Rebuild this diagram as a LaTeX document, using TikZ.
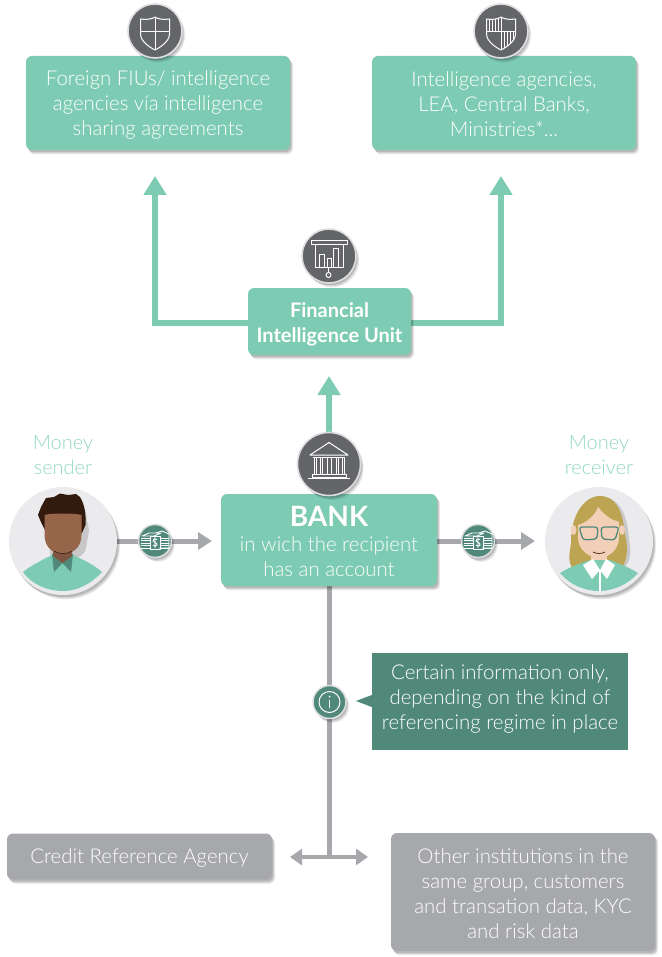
\documentclass[tikz,border=0pt]{standalone}
\usepackage{fontspec}
\setmainfont{Lato}[UprightFont=* Light,BoldFont=* Bold]
\usetikzlibrary{arrows.meta,shadows,backgrounds,calc}
\definecolor{mint}{HTML}{7DCBB3}
\definecolor{lightmint}{HTML}{92D8C1}
\definecolor{deepgreen}{HTML}{50897A}
\definecolor{slate}{HTML}{646569}
\definecolor{midgray}{HTML}{A7A8AC}
\definecolor{ringgray}{HTML}{DEDEE0}
\definecolor{avatarbg}{HTML}{EBEBEE}
\definecolor{darkhair}{HTML}{321B0D}
\definecolor{skinbrown}{HTML}{96654A}
\definecolor{neckbrown}{HTML}{7E5540}
\definecolor{blondehair}{HTML}{BDA452}
\definecolor{skinpale}{HTML}{F3CFB8}
\newcommand{\hh}[1]{\rule{0pt}{#1pt}}
\newcommand{\dd}[1]{\rule[-#1pt]{0pt}{0pt}}
\tikzset{
 x=1pt,y=-1pt,
 softshadow/.style={
   drop shadow={shadow xshift=3.2pt,shadow yshift=-4.4pt,fill=black,opacity=.07},
   drop shadow={shadow xshift=2.4pt,shadow yshift=-3.4pt,fill=black,opacity=.10},
   drop shadow={shadow xshift=1.4pt,shadow yshift=-2.2pt,fill=black,opacity=.14}},
 box/.style={rectangle,rounded corners=6pt,align=center,inner sep=0pt,text=white,softshadow,
   font=\fontsize{20.4}{25}\selectfont},
 greenbox/.style={box,fill=mint},
 graybox/.style={box,fill=midgray},
 iconcirc/.style={circle,fill=slate,draw=ringgray,line width=1.6pt,inner sep=0pt,softshadow},
 moneycirc/.style={circle,fill=deepgreen,draw=ringgray,line width=1.5pt,inner sep=0pt,minimum size=33pt,softshadow},
 greenarrow/.style={draw=mint,line width=6pt,-{Triangle[length=19pt,width=22pt,fill=mint]}},
 grayarrow/.style={draw=midgray,line width=5pt,-{Triangle[length=14pt,width=17pt,fill=midgray]}},
 graydouble/.style={draw=midgray,line width=4pt,{Triangle[length=12pt,width=16pt,fill=midgray]}-{Triangle[length=12pt,width=16pt,fill=midgray]}},
 grayline/.style={draw=midgray,line width=5pt},
 iconline/.style={draw=white,line width=1pt,line join=round},
 sidelabel/.style={text=lightmint,align=center,inner sep=0pt,font=\fontsize{20}{25}\selectfont},
}
\newcommand{\shieldpath}{(-14.5,-12) .. controls (-8,-11) and (-3,-12) .. (0,-14) .. controls (3,-12) and (8,-11) .. (14.5,-12) -- (14.5,3) .. controls (14.5,10) and (6,16) .. (0,19) .. controls (-6,16) and (-14.5,10) .. (-14.5,3) -- cycle}
\newcommand{\moneyicon}{%
 \draw[iconline,line width=.9pt] (-13,-5) -- (-6,-8) -- (6,-8) -- (-1,-5) -- cycle;
 \draw[iconline,line width=.9pt] (1,-8) -- (7,-10) -- (14,-7) -- (14,7) -- (4,7);
 \foreach \yy in {-3,-.5,2,4.5,7}{\draw[iconline,line width=.8pt] (-14,\yy) -- (-5,\yy) (5,\yy) -- (14,\yy);}
 \draw[iconline,line width=.9pt] (-5,-5) -- (5,-5) -- (5,8) -- (-5,8) -- cycle;
 \draw[iconline,line width=.9pt] (2,-1.5) .. controls (0,-3) and (-2.5,-2) .. (-2,0) .. controls (-1.5,2) and (2.5,1) .. (2,4) .. controls (1.5,5.5) and (-1,5.5) .. (-2,4) (0,-4) -- (0,7);
}
\begin{document}
\begin{tikzpicture}
\useasboundingbox (0,0) rectangle (661,957);
% boxes
\node[greenbox,minimum width=264pt,minimum height=94pt] (foreign) at (158,103) {\hh{20.5}Foreign FIUs/ intelligence\\agencies vía intelligence\\sharing agreements\dd{4.5}};
\node[greenbox,minimum width=264pt,minimum height=94pt] (agencies) at (504,103) {\hh{21.5}Intelligence agencies,\\LEA, Central Banks,\\Ministries*...\dd{4.5}};
\node[greenbox,minimum width=163pt,minimum height=67pt,font=\fontsize{20}{25}\selectfont\bfseries] (fiu) at (329.5,321.5) {\hh{20.5}Financial\\Intelligence Unit\dd{4.5}};
\node[greenbox,minimum width=216pt,minimum height=92pt] (bank) at (329,540) {\hh{24}{\fontsize{28}{25}\selectfont\bfseries BANK}\\in wich the recipient\\has an account};
\node[rectangle,fill=deepgreen,text=white,align=center,inner sep=0pt,minimum width=256pt,minimum height=97pt,font=\fontsize{20.4}{25}\selectfont] (note) at (500,701.5) {\hh{15}Certain information only,\\depending on the kind of\\referencing regime in place\dd{9}};
\node[graybox,minimum width=265pt,minimum height=46pt] (cra) at (139.5,856.5) {\hh{18.7}Credit Reference Agency\dd{4.5}};
\node[graybox,minimum width=264pt,minimum height=118pt] (other) at (523,892) {\hh{22.5}Other institutions in the\\same group, customers\\and transation data, KYC\\and risk data\dd{4.5}};
% labels
\node[sidelabel] (senderlabel) at (63,455) {Money\\sender};
\node[sidelabel] (receiverlabel) at (599,454.5) {Money\\receiver};
% circles
\node[iconcirc,minimum size=54pt] (shieldA) at (155,31) {};
\node[iconcirc,minimum size=54pt] (shieldB) at (501,31) {};
\node[iconcirc,minimum size=54pt] (board) at (329,256) {};
\node[iconcirc,minimum size=63pt] (temple) at (329,464) {};
\node[circle,fill=avatarbg,inner sep=0pt,minimum size=108pt,softshadow] (sender) at (63,541) {};
\node[circle,fill=avatarbg,inner sep=0pt,minimum size=108pt,softshadow] (receiver) at (599,541) {};
\node[moneycirc] (moneyA) at (155,541) {};
\node[moneycirc] (moneyB) at (478,541) {};
\node[moneycirc] (info) at (329.5,702) {};
% free ends
\coordinate (tipA) at (155,176);
\coordinate (tipB) at (501,176);
\coordinate (tipC) at (329,376);
\coordinate (tipD) at (212,541);
\coordinate (tipE) at (535,541);
\coordinate (junction) at (329,857);
\coordinate (tipF) at (290,857);
\coordinate (tipG) at (368,857);
% connectors
\begin{scope}[on background layer]
\draw[greenarrow] ([yshift=-1pt]fiu.west) -| (tipA);
\draw[greenarrow] ([yshift=-1pt]fiu.east) -| (tipB);
\draw[greenarrow] (temple.north) -- (tipC);
\draw[grayarrow] (sender.east) -- (tipD);
\draw[grayarrow] (bank.east |- tipE) -- (tipE);
\draw[grayline] (bank.south) -- (junction);
\draw[graydouble] (tipF) -- (tipG);
\end{scope}
% callout pointer
\fill[deepgreen] (note.west |- 0,695) -- (356,701) -- (note.west |- 0,707) -- cycle;
% shields
\begin{scope}[shift={(shieldA.center)}]
\draw[iconline] \shieldpath;
\draw[iconline] (0,-14) -- (0,19) (-14.5,1) -- (14.5,1);
\end{scope}
\begin{scope}[shift={(shieldB.center)}]
\draw[iconline] \shieldpath;
\draw[iconline] (0,-14) -- (0,19) (-14.5,1) -- (14.5,1);
\begin{scope}
\clip \shieldpath;
\foreach \xx in {-12,-9,-6,-3}{\draw[iconline,line width=.8pt] (\xx,-14) -- (\xx,1);}
\foreach \xx in {3,6,9,12}{\draw[iconline,line width=.8pt] (\xx,1) -- (\xx,19);}
\end{scope}
\end{scope}
% board
\begin{scope}[shift={(board.center)}]
\draw[iconline] (-17.5,-15.5) rectangle (18,-11);
\draw[iconline] (-14,-11) -- (-14,12) -- (14.5,12) -- (14.5,-11);
\draw[iconline] (-10,12) -- (-10,-1) -- (-4.5,-1) -- (-4.5,12);
\draw[iconline] (-2,12) -- (-2,3) -- (2.5,3) -- (2.5,12);
\draw[iconline] (4.5,12) -- (4.5,-7) -- (9,-7) -- (9,12);
\draw[iconline] (-.5,12) -- (-.5,16.5);
\draw[iconline] (-.5,19) circle[radius=2.5];
\end{scope}
% temple
\begin{scope}[shift={(temple.center)}]
\draw[iconline] (0,-21.5) -- (19,-9) -- (-19,-9) -- cycle;
\draw[iconline] (-16,-6.5) -- (16,-6.5);
\foreach \xx in {-15,-13,-9,-7,-2,2,7,9,13,15}{\draw[iconline,line width=.9pt] (\xx,-6.5) -- (\xx,10);}
\draw[iconline] (-17,10) rectangle (17,13);
\draw[iconline] (-21,14.5) -- (21,14.5);
\end{scope}
% money
\begin{scope}[shift={(moneyA.center)}]\moneyicon\end{scope}
\begin{scope}[shift={(moneyB.center)}]\moneyicon\end{scope}
% info
\begin{scope}[shift={(info.center)}]
\draw[iconline] (0,0) circle[radius=10.5];
\draw[iconline] (0,-2) -- (0,6);
\fill[white] (0,-5.5) circle[radius=1];
\end{scope}
% sender avatar
\begin{scope}
\clip (sender.center) circle[radius=54];
\fill[black!22] (50,500) .. controls (70,490) and (85,495) .. (87,520) -- (89,530) -- (86,548) .. controls (85,555) and (75,560) .. (70,560) -- (50,555) -- cycle;
\fill[mint] (23,572) .. controls (32,565) and (42,560) .. (52,555) -- (73,555) .. controls (84,560) and (94,565) .. (102,572) .. controls (90,585) and (76,591) .. (63,591) .. controls (48,591) and (32,585) .. (23,572) -- cycle;
\fill[deepgreen] (52,554) -- (54,572) -- (62.5,563) -- (71,572) -- (73,554) -- cycle;
\fill[neckbrown] (53,545) -- (72,545) -- (72,556) -- (62.5,563) -- (53,556) -- cycle;
\fill[darkhair] (41,507) -- (46,498) -- (54,497) -- (60,493.5) -- (68,495) -- (76,494) -- (80,497) .. controls (85,505) and (86,515) .. (85.5,525) -- (82,533) -- (45,530) -- (41,522) -- (38,515) -- cycle;
\fill[skinbrown] (44.5,515) .. controls (50,513) and (75,513) .. (81.5,515) -- (81.5,535) .. controls (81.5,548) and (72,554) .. (63,554) .. controls (54,554) and (44.5,548) .. (44.5,535) -- cycle;
\draw[darkhair,line width=.6pt] (54,551) .. controls (59,554.5) and (67,554.5) .. (72,551);
\end{scope}
% receiver avatar
\begin{scope}
\clip (receiver.center) circle[radius=54];
\fill[black!22] (605,497) .. controls (622,500) and (628,520) .. (629,540) .. controls (632,552) and (630,562) .. (624,568) -- (600,570) -- cycle;
\fill[blondehair] (600,496) .. controls (616,496) and (623,512) .. (625,535) .. controls (628,546) and (628,558) .. (622,568) -- (572,568) .. controls (566,556) and (572,548) .. (571,538) .. controls (572,515) and (584,496) .. (600,496) -- cycle;
\fill[skinpale] (573.5,530) circle[x radius=3,y radius=5] (622,530) circle[x radius=3,y radius=5];
\fill[skinpale] (598,507) .. controls (605,516) and (612,520) .. (619,522) -- (619,538) .. controls (619,550) and (608,558) .. (599,558) .. controls (590,558) and (578,550) .. (578,538) -- (578,525) .. controls (588,522) and (595,515) .. (598,507) -- cycle;
\fill[skinpale] (591,555) -- (607,555) -- (607,568) -- (591,568) -- cycle;
\fill[mint] (560,573) .. controls (570,567) and (578,564) .. (590,560) -- (610,560) .. controls (620,564) and (630,568) .. (638,573) .. controls (628,585) and (612,591) .. (599,591) .. controls (585,591) and (570,585) .. (560,573) -- cycle;
\fill[white] (583,565) -- (593,559) -- (600,570) -- (592,579) -- cycle;
\fill[white] (615,565) -- (606,559) -- (600,570) -- (607,579) -- cycle;
\draw[white,line width=1.2pt] (600,570) -- (600,592);
\draw[deepgreen,line width=1.3pt,rounded corners=3pt] (579,527) -- (598,527) -- (597,539) -- (583,540) -- cycle;
\draw[deepgreen,line width=1.3pt,rounded corners=3pt] (619,527) -- (601,527) -- (602,539) -- (615,540) -- cycle;
\draw[black!45!skinbrown,line width=.8pt] (593,552) .. controls (597,554) and (601,554) .. (605,552);
\end{scope}
\end{tikzpicture}
\end{document}
